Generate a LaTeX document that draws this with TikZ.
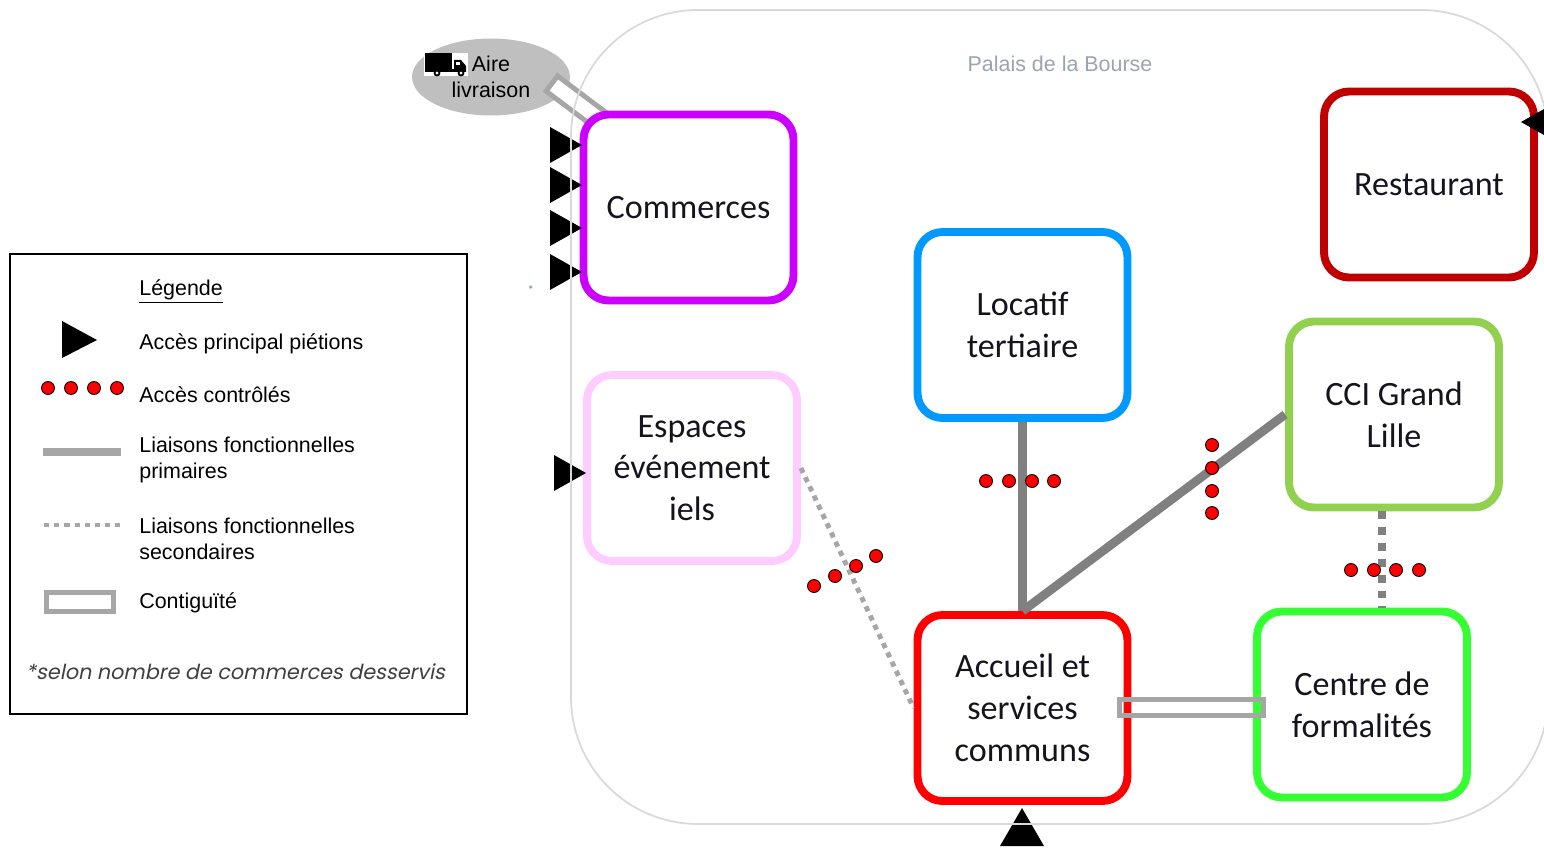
\documentclass[tikz,border=0pt]{standalone}
\usepackage{fontspec}
\setmainfont{Carlito}
\newfontfamily\arial{Liberation Sans}
\newfontfamily\gothic[FakeSlant=0.2]{Poppins}
\usetikzlibrary{shapes.geometric}

\definecolor{commerce}{RGB}{204,0,255}
\definecolor{resto}{RGB}{192,0,0}
\definecolor{locatif}{RGB}{0,153,255}
\definecolor{cci}{RGB}{146,208,80}
\definecolor{espace}{RGB}{255,204,255}
\definecolor{accueil}{RGB}{255,0,0}
\definecolor{formalite}{RGB}{51,255,51}
\definecolor{gris}{RGB}{128,128,128}
\definecolor{grisclair}{RGB}{166,166,166}
\definecolor{aire}{RGB}{191,191,191}
\definecolor{bordure}{RGB}{217,217,217}
\definecolor{palais}{RGB}{155,163,178}
\definecolor{texte}{RGB}{20,20,30}

\begin{document}
\begin{tikzpicture}[x=0.02cm, y=-0.02cm,
    boite/.style={draw, line width=4.5pt, rounded corners=0.5cm, fill=white,
        minimum width=4.2cm, minimum height=3.72cm, align=center, text=texte,
        font=\fontsize{19.4}{23.8}\selectfont},
    primaire/.style={draw=gris, line width=5pt},
    secondaire/.style={draw=grisclair, line width=2.8pt, dash pattern=on 3pt off 2.8pt},
    contigu/.style={draw=grisclair, line width=2.8pt},
    controle/.style={circle, fill=red, draw=black, line width=0.5pt,
        minimum size=0.26cm, inner sep=0pt},
    legende/.style={anchor=west, align=left, text=black, inner sep=0pt,
        font=\arial\fontsize{12.2}{14.8}\selectfont}]

\useasboundingbox (0,0) rectangle (1544,848);

% legende
\draw[line width=0.8pt] (10,254) rectangle (467,714);
\node[legende] (leg) at (139,292) {\underline{Légende}};
\fill (62,321) -- (97,340) -- (62,358) -- cycle;
\node[legende] (legacces) at (139,344) {Accès principal piétions};
\foreach \x [count=\i] in {48,71,94,117} \node[controle] (legc\i) at (\x,388) {};
\node[legende] (legctrl) at (139,395) {Accès contrôlés};
\draw[draw=grisclair, line width=4pt] (43,452) -- (121,452);
\node[legende] (legprim) at (139,460) {Liaisons fonctionnelles\\primaires};
\draw[secondaire] (44,525) -- (120,525);
\node[legende] (legsec) at (139,538.5) {Liaisons fonctionnelles\\secondaires};
\draw[contigu] (46.5,592.5) rectangle (113.5,611.5);
\node[legende] (legcont) at (139,603) {Contiguïté};
\node[text=black!75, font=\gothic\fontsize{11.8}{14}\selectfont] (note) at (235.5,672)
    {*selon nombre de commerces desservis};

% aire livraison
\node[ellipse, fill=aire, minimum width=3.16cm, minimum height=1.54cm, inner sep=0pt,
    align=center, font=\arial\fontsize{12.2}{14.8}\selectfont] (aire) at (491,77)
    {\hspace*{0pt}Aire\\livraison};
\fill[white] (424,53) rectangle (468,76);
\fill (425,53) rectangle (452,70);  %camion
\fill (454,60) -- (461,60) -- (466,66) -- (466,72) -- (454,72) -- cycle;
\fill (425,69) rectangle (466,72);
\fill[white] (456,62) rectangle (460,65);
\filldraw[fill=white, line width=1pt] (437,73) circle (0.05cm) (461,73) circle (0.05cm);
\node[contigu, fill=white, rotate=-37, minimum width=1.26cm, minimum height=0.38cm,
    inner sep=0pt] (liv) at (577,102.5) {};

% poles
\node[boite, draw=commerce] (com) at (688.5,207.5) {Commerces};
\node[boite, draw=resto] (rest) at (1429,184.5) {Restaurant};
\node[boite, draw=locatif] (loc) at (1022.5,325) {Locatif\\tertiaire};
\node[boite, draw=cci] (cci) at (1394,414.5) {CCI Grand\\Lille};
\node[boite, draw=espace] (esp) at (692,468) {Espaces\\événement\\iels};
\node[boite, draw=accueil] (acc) at (1022.5,708) {Accueil et\\services\\communs};
\node[boite, draw=formalite] (cfe) at (1362,704.5) {Centre de\\formalités};

% liaisons
\draw[primaire] (loc.south) -- (acc.north);
\draw[primaire] (cci.west) -- (acc.north);
\draw[secondaire] (esp.east) -- (acc.west);
\coordinate (m) at (1382,0);
\draw[secondaire, draw=gris, line width=4.5pt, dash pattern=on 4.5pt off 4.5pt]
    (cci.south -| m) -- (cfe.north -| m);
\draw[contigu] (1119.5,699.5) rectangle (1263.5,715.5);

% acces controles
\foreach \x [count=\i] in {986,1009,1032,1054} \node[controle] (a\i) at (\x,481) {};
\foreach \y [count=\i] in {445,468,491,513} \node[controle] (b\i) at (1212,\y) {};
\foreach \x/\y [count=\i] in {814/586,835/576,856/566,876/556} \node[controle] (c\i) at (\x,\y) {};
\foreach \x [count=\i] in {1351,1374,1396,1419} \node[controle] (d\i) at (\x,570) {};

% acces pietons
\foreach \y in {127,167,210,254} \fill (550,\y) -- ++(32,18) -- ++(-32,18) -- cycle;
\fill (554,455) -- ++(32,18) -- ++(-32,18) -- cycle;
\fill (1521,122) -- ++(32,-18) -- ++(0,36) -- cycle;
\fill (1022,808) -- ++(22,38) -- ++(-44,0) -- cycle;
\node[text=black!50!violet!60, font=\fontsize{7}{7}\selectfont] (etoile) at (531,290) {*};

% palais
\draw[draw=bordure, line width=1pt, rounded corners=2.54cm] (571,10) rectangle (1548,824);
\node[text=palais, font=\arial\fontsize{12.2}{14.8}\selectfont] (titre) at (1060,64) {Palais de la Bourse};

\end{tikzpicture}
\end{document}
